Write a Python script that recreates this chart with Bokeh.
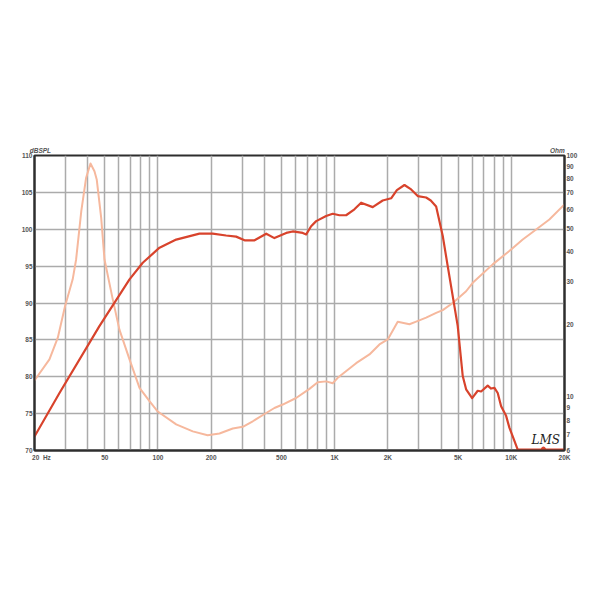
from bokeh.plotting import figure
from bokeh.models import LogAxis, LogScale, Range1d, FixedTicker, Label
from bokeh.embed import file_html
from bokeh.resources import INLINE

# ---------------- data ----------------
spl_freq = [20, 27.7, 46.7, 69.0, 82.0, 102, 126.8, 171.7, 204, 243, 277, 309, 352,
            410, 456, 532, 579, 660, 690, 736, 786, 895, 975, 1064, 1161, 1294,
            1412, 1642, 1871, 2088, 2250, 2484, 2710, 2953, 3295, 3500, 3754,
            4091, 4365, 4972, 5308, 5548, 6000, 6455, 6746, 7352, 7684, 8025,
            8376, 8755, 9344, 9752, 10184, 10868, 20000]
spl_db = [71.9, 77.8, 86.9, 93.2, 95.45, 97.5, 98.6, 99.4, 99.4, 99.15, 99.0, 98.5, 98.5,
          99.4, 98.8, 99.5, 99.7, 99.5, 99.3, 100.4, 101.1, 101.8, 102.1, 101.9, 101.9, 102.7,
          103.6, 103.0, 103.9, 104.2, 105.3, 106.0, 105.4, 104.5, 104.3, 103.9, 103.1,
          99.1, 95.0, 86.9, 80.1, 78.3, 77.1, 78.1, 78.0, 78.8, 78.4, 78.5,
          77.8, 76.0, 74.7, 73.1, 71.9, 70.12, 70.12]

imp_freq = [20, 24.3, 27.1, 29.8, 32.9, 34.4, 36.8, 39.2, 41.5, 43.7, 45.0, 47.7, 49.8,
            55.5, 60.5, 69.0, 78.6, 89.5, 99.7, 126.8, 157.4, 191, 223, 265, 302, 344,
            401, 456, 508, 605, 720, 802, 895, 975, 1041, 1323, 1574, 1793, 1998, 2275,
            2651, 2892, 3295, 3754, 4091, 4661, 5548, 6048, 7848, 9975, 11601, 13816,
            16421, 20000]
imp_ohm = [11.7, 14.3, 17.6, 23.8, 30.7, 37.1, 58.8, 80.9, 92.7, 86.1, 79.6, 55.2, 37.1,
           25.3, 19.0, 14.3, 10.9, 9.6, 8.7, 7.7, 7.2, 6.94, 7.06, 7.4, 7.52, 7.93,
           8.5, 9.0, 9.3, 9.9, 10.8, 11.5, 11.6, 11.4, 12.0, 13.8, 15.0, 16.5, 17.3, 20.5,
           20.0, 20.5, 21.3, 22.3, 22.9, 24.5, 27.4, 29.7, 35.4, 40.8, 44.9, 49.4,
           54.3, 62.7]

x_label_ticks = [21.9, 50, 100, 200, 500, 1000, 2000, 5000, 10000, 20000]
x_label_text = ["20\u00a0\u00a0Hz", "50", "100", "200", "500", "1K", "2K", "5K", "10K", "20K"]
x_grid_ticks = [30, 40, 50, 60, 70, 80, 90, 100, 200, 300, 400, 500, 600, 700, 800, 900,
                1000, 2000, 3000, 4000, 5000, 6000, 7000, 8000, 9000, 10000]
db_ticks = [70, 75, 80, 85, 90, 95, 100, 105, 110]
ohm_ticks = [6, 7, 8, 9, 10, 20, 30, 40, 50, 60, 70, 80, 90, 100]
unit_ticks = [21.6, 18230]
unit_text = ["dBSPL", "Ohm"]

marker_freq = [15200]
marker_db = [70.2]

# ---------------- styling ----------------
RED = "#d8432c"
PINK = "#f6b89d"
GRID = "#ababab"
FRAME = "#2e2e2e"
LBL = "#555555"
FONT = "Liberation Sans"

p = figure(width=584, height=584, x_axis_type="log",
           x_range=Range1d(20, 20000), y_range=Range1d(70, 110),
           output_backend="svg", toolbar_location=None,
           min_border_left=34, min_border_right=20,
           min_border_top=155, min_border_bottom=134)
p.background_fill_color = "white"
p.border_fill_color = "white"
p.outline_line_color = FRAME
p.outline_line_width = 2

p.extra_y_ranges = {"ohm": Range1d(6, 100)}
p.extra_y_scales = {"ohm": LogScale()}

# grids
p.xgrid.ticker = FixedTicker(ticks=x_grid_ticks)
p.xgrid.grid_line_color = GRID
p.xgrid.grid_line_width = 1.5
p.ygrid.ticker = FixedTicker(ticks=db_ticks)
p.ygrid.grid_line_color = GRID
p.ygrid.grid_line_width = 1.5

def style_axis(ax, standoff):
    ax.axis_line_color = FRAME
    ax.axis_line_width = 2
    ax.major_tick_in = 0
    ax.major_tick_out = 0
    ax.minor_tick_in = 0
    ax.minor_tick_out = 0
    ax.major_label_text_font = FONT
    ax.major_label_text_font_size = "6.5px"
    ax.major_label_text_font_style = "bold"
    ax.major_label_text_color = LBL
    ax.major_label_standoff = standoff

xa = p.xaxis[0]
xa.ticker = FixedTicker(ticks=x_label_ticks)
xa.major_label_overrides = {t: s for t, s in zip(x_label_ticks, x_label_text)}
style_axis(xa, 3)

ya = p.yaxis[0]
ya.ticker = FixedTicker(ticks=db_ticks)
ya.major_label_overrides = {t: str(t) for t in db_ticks}
style_axis(ya, 2)

ra = LogAxis(y_range_name="ohm", ticker=FixedTicker(ticks=ohm_ticks))
ra.major_label_overrides = {t: str(t) for t in ohm_ticks}
style_axis(ra, 2)
p.add_layout(ra, "right")

# unit captions as a top axis
ta = LogAxis(ticker=FixedTicker(ticks=unit_ticks))
ta.major_label_overrides = {t: s for t, s in zip(unit_ticks, unit_text)}
style_axis(ta, 2)
ta.axis_line_alpha = 0
ta.major_label_text_font_style = "bold italic"
p.add_layout(ta, "above")

# curves
p.line(imp_freq, imp_ohm, y_range_name="ohm", line_color=PINK, line_width=2,
       line_join="round")
p.line(spl_freq, spl_db, line_color=RED, line_width=2.2, line_join="round")
p.scatter(marker_freq, marker_db, size=4, color=RED)

p.add_layout(Label(x=13000, y=70, x_offset=0, y_offset=4, text="LMS",
                   text_baseline="bottom", text_align="left",
                   text_font="DejaVu Serif", text_font_size="12px", text_font_style="italic",
                   text_color="#222222"))

open("out.html", "w").write(file_html(p, INLINE))
